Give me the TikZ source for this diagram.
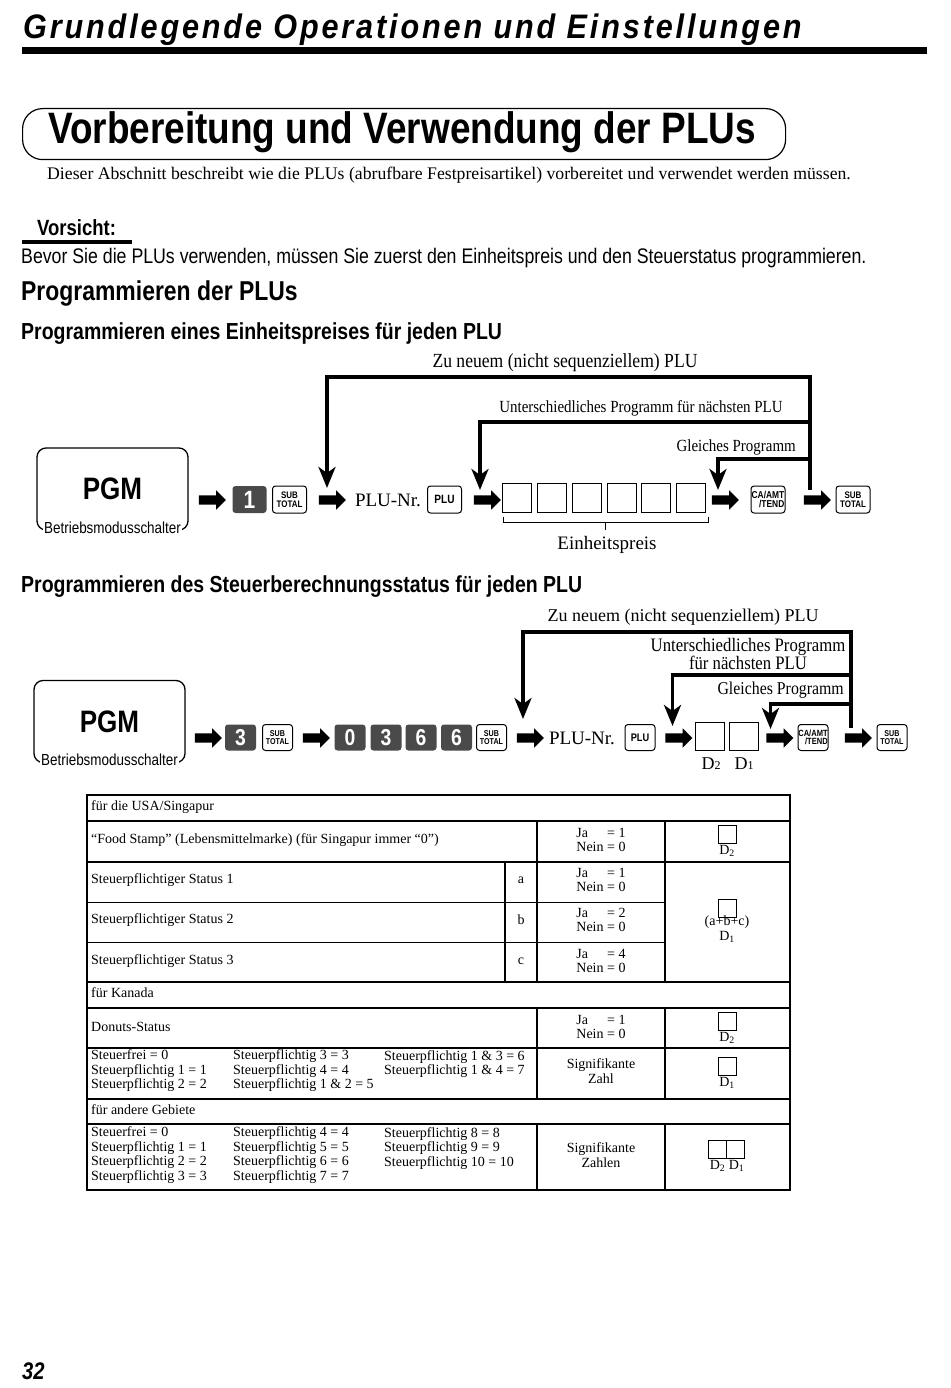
\documentclass[tikz,border=0pt]{standalone}
\usepackage{fontspec}
\setmainfont{Liberation Serif}
\newfontfamily\nser[FakeStretch=0.88]{Liberation Serif}
\newfontfamily\cnd[FakeStretch=0.84]{Liberation Sans}
\newfontfamily\hdr[FakeStretch=0.9,LetterSpace=8.4]{Liberation Sans}
\usetikzlibrary{arrows.meta,shapes.arrows,calc}
\definecolor{keygray}{HTML}{4A4A4A}

\tikzset{
  blk/.style={single arrow,fill=black,inner xsep=0pt,inner ysep=4.5pt,minimum height=27pt,single arrow head extend=5pt,single arrow head indent=0pt},
  key/.style={draw,rounded corners=3pt,line width=1pt,minimum width=34pt,minimum height=27pt,inner sep=0pt,align=center,font=\cnd\bfseries\fontsize{9.5}{8.5}\selectfont},
  numkey/.style={fill=keygray,rounded corners=3pt,minimum width=34pt,minimum height=27pt,inner sep=0pt,text=white,font=\cnd\bfseries\fontsize{25}{25}\selectfont},
  entry/.style={draw,line width=0.9pt,minimum width=29pt,minimum height=29pt,inner sep=0pt},
  pgmbox/.style={draw,line width=1.3pt,rounded corners=9pt,minimum width=151pt,minimum height=82pt,font=\cnd\bfseries\fontsize{31}{31}\selectfont},
  modesw/.style={fill=white,inner sep=1pt,font=\cnd\fontsize{16}{16}\selectfont},
  fb/.style={line width=3.6pt,-{Stealth[length=21pt,width=17pt,inset=6pt]}},
  fbl/.style={line width=3.6pt},
  lbl/.style={inner sep=0pt,font=\fontsize{18}{18}\selectfont},
  cell/.style={anchor=west,align=left,inner sep=0pt,font=\fontsize{14}{14.5}\selectfont},
  ccell/.style={align=center,inner sep=0pt,font=\fontsize{14}{14.5}\selectfont},
  jn/.style={align=left,inner sep=0pt,font=\fontsize{14}{14.5}\selectfont},
  tthick/.style={line width=1.6pt},
  tthin/.style={line width=0.7pt},
  dsmall/.style={draw,line width=0.8pt,minimum size=18pt,inner sep=0pt},
  head/.style={anchor=west,inner sep=0pt,font=\cnd\bfseries\fontsize{23.2}{23.2}\selectfont}
}
\newcommand\janein[1]{\makebox[2.2em][l]{Ja}= #1\\Nein = 0}

\begin{document}
\begin{tikzpicture}[x=1pt,y=-1pt]
\useasboundingbox (0,0) rectangle (950,1388);

% page header
\node[anchor=west,inner sep=0pt,font=\hdr\bfseries\itshape\fontsize{34}{34}\selectfont] (hdr) at (23,30) {Grundlegende Operationen und Einstellungen};
\fill (22,47) rectangle (927,54);

\node[draw,line width=1.2pt,rounded corners=20pt,minimum width=763pt,minimum height=51pt,anchor=north west] (ttlbox) at (22,108) {};
\node[anchor=west,inner sep=0pt,font=\cnd\bfseries\fontsize{44}{44}\selectfont] (ttl) at (48,132) {Vorbereitung und Verwendung der PLUs};
\node[anchor=west,inner sep=0pt,font=\fontsize{17.7}{17.7}\selectfont] (intro) at (47,175) {Dieser Abschnitt beschreibt wie die PLUs (abrufbare Festpreisartikel) vorbereitet und verwendet werden müssen.};

\node[anchor=west,inner sep=0pt,font=\cnd\bfseries\fontsize{22}{22}\selectfont] (vors) at (37,228) {Vorsicht:};
\fill (22,240) rectangle (132,244);
\node[anchor=west,inner sep=0pt,font=\cnd\fontsize{21.1}{21.1}\selectfont] (bevor) at (21,258) {Bevor Sie die PLUs verwenden, müssen Sie zuerst den Einheitspreis und den Steuerstatus programmieren.};
\node[head,font=\cnd\bfseries\fontsize{27.3}{27.3}\selectfont] (h1) at (21,294) {Programmieren der PLUs};
\node[head] (h2) at (21,334) {Programmieren eines Einheitspreises für jeden PLU};

% Einheitspreis
\node[pgmbox] (pgm1) at (112.5,489) {PGM};
\node[modesw] (sw1) at ([yshift=3pt]pgm1.south) {Betriebsmodusschalter};
\node[blk] (a11) at (210,500) {};
\node[numkey] (k11) at (249.5,499.5) {1};
\node[key] (k12) at (289.5,499.5) {SUB\\TOTAL};
\node[blk] (a12) at (330,500) {};
\node[lbl,font=\fontsize{19}{19}\selectfont] (nr1) at (388,500) {PLU-Nr.};
\node[key,font=\cnd\bfseries\fontsize{12}{12}\selectfont] (k13) at (444.5,499.5) {PLU};
\node[blk] (a13) at (485,500) {};
\foreach \i/\x in {1/517,2/552,3/587,4/621.5,5/656,6/690.5}
  \node[entry] (e\i) at (\x,498) {};
\draw[line width=1pt] ($(e1.south west)+(1,4)$) -- ++(0,6) -| ($(e6.south east)+(3,4)$);
\coordinate (br) at ($(e1.south west)!0.5!(e6.south east)+(2,10)$);
\draw[line width=1pt] (br) -- ++(0,7);
\node[lbl,font=\fontsize{19}{19}\selectfont] (ep) at (607,545) {Einheitspreis};
\node[blk] (a14) at (723,500) {};
\node[key,align=right,font=\cnd\bfseries\fontsize{10}{9}\selectfont] (k14) at (768,499.5) {CA/AMT\\/TEND};
\node[blk] (a15) at (815,500) {};
\node[key] (k15) at (853,499.5) {SUB\\TOTAL};

\coordinate (j1) at (810,377);
\coordinate (j2) at (810,422);
\coordinate (j3) at (810,459);
\draw[fbl] ([yshift=1.8pt]j1) -- ([xshift=-5pt,yshift=10pt]a15.center);
\draw[fb] (j1) -| ([xshift=-3pt,yshift=12pt]a12.center);
\draw[fb] (j2) -| ([xshift=-5pt,yshift=10pt]a13.center);
\draw[fb] (j3) -| ([xshift=-5pt,yshift=10pt]a14.center);
\node[lbl,font=\nser\fontsize{20}{20}\selectfont] (l11) at (565,363) {Zu neuem (nicht sequenziellem) PLU};
\node[lbl,font=\nser\fontsize{17}{17}\selectfont] (l12) at (641,408) {Unterschiedliches Programm für nächsten PLU};
\node[lbl,anchor=east,font=\nser\fontsize{17}{17}\selectfont] (l13) at (796,447) {Gleiches Programm};

% Steuerstatus
\node[head] (h3) at (21,587) {Programmieren des Steuerberechnungsstatus für jeden PLU};
\node[pgmbox] (pgm2) at (109.5,721.5) {PGM};
\node[modesw] (sw2) at ([yshift=3pt]pgm2.south) {Betriebsmodusschalter};
\node[blk] (a21) at (206,738) {};
\node[numkey,minimum width=31pt,minimum height=26pt,font=\cnd\bfseries\fontsize{23}{23}\selectfont] (k21) at (240.5,737.5) {3};
\node[key,minimum width=30pt,minimum height=26pt,font=\cnd\bfseries\fontsize{8.5}{8}\selectfont] (k22) at (277.5,737.5) {SUB\\TOTAL};
\node[blk] (a22) at (314,738) {};
\foreach \i/\x/\d in {3/350/0,4/386/3,5/421/6,6/456.5/6}
  \node[numkey,minimum width=31pt,minimum height=26pt,font=\cnd\bfseries\fontsize{23}{23}\selectfont] (k2\i) at (\x,737.5) {\d};
\node[key,minimum width=30pt,minimum height=26pt,font=\cnd\bfseries\fontsize{8.5}{8}\selectfont] (k27) at (491.5,737.5) {SUB\\TOTAL};
\node[blk] (a23) at (528,738) {};
\node[lbl,font=\fontsize{19}{19}\selectfont] (nr2) at (582,738) {PLU-Nr.};
\node[key,minimum width=30pt,minimum height=26pt,font=\cnd\bfseries\fontsize{11}{11}\selectfont] (k28) at (640,737.5) {PLU};
\node[blk] (a24) at (676.5,738) {};
\node[entry,minimum height=28pt] (dd2) at (709.5,736) {};
\node[entry,minimum height=28pt] (dd1) at (743.5,736) {};
\node[lbl] (ld2) at (711,764) {D{\fontsize{12}{12}\selectfont 2}};
\node[lbl] (ld1) at (744,764) {D{\fontsize{12}{12}\selectfont 1}};
\node[blk] (a25) at (777.5,738) {};
\node[key,align=right,minimum width=30pt,minimum height=26pt,font=\cnd\bfseries\fontsize{9}{8.5}\selectfont] (k29) at (813,737.5) {CA/AMT\\/TEND};
\node[blk] (a26) at (856,738) {};
\node[key,minimum width=30pt,minimum height=26pt,font=\cnd\bfseries\fontsize{8.5}{8}\selectfont] (k2a) at (892,737.5) {SUB\\TOTAL};

\coordinate (j4) at (851,632);
\coordinate (j5) at (851,675);
\coordinate (j6) at (851,704);
\draw[fbl] ([yshift=1.8pt]j4) -- ([xshift=-5pt,yshift=10pt]a26.center);
\draw[fb] (j4) -| ([xshift=-5pt,yshift=19pt]a23.center);
\draw[fb] (j5) -| ([xshift=-4pt,yshift=12pt]a24.center);
\draw[fb] (j6) -| ([xshift=-7pt,yshift=9pt]a25.center);
\node[lbl] (l21) at (683,617) {Zu neuem (nicht sequenziellem) PLU};
\node[lbl,align=center,font=\nser\fontsize{19}{17}\selectfont] (l22) at (748,654) {Unterschiedliches Programm\\für nächsten PLU};
\node[lbl,anchor=east,font=\nser\fontsize{18}{18}\selectfont] (l23) at (844,690) {Gleiches Programm};

% table
\draw[tthick] (87,795) rectangle (790,1190);
\foreach \y in {821,862,982,1008,1048,1099,1124}
  \draw[tthick] (87,\y) -- (790,\y);
\draw[tthin] (87,902) -- (665,902) (87,942) -- (665,942);
\foreach \ya/\yb in {821/982,1008/1099,1124/1190}
  \draw[tthick] (537,\ya) -- (537,\yb) (665,\ya) -- (665,\yb);
\draw[tthick] (505,862) -- (505,982);

\node[cell] (t0) at (91,807) {für die USA/Singapur};
\node[cell] (t1) at (91,840) {“Food Stamp” (Lebensmittelmarke) (für Singapur immer “0”)};
\node[jn] (t1j) at (601,840) {\janein{1}};
\node[dsmall] (t1d) at (727,834) {};
\node[ccell] (t1l) at (727,851) {D\textsubscript{2}};
\foreach \n/\y/\c/\v in {1/880/a/1,2/920/b/2,3/961/c/4}{
  \node[cell] (s\n) at (91,\y) {Steuerpflichtiger Status \n};
  \node[ccell] (s\n c) at (521,\y) {\c};
  \node[jn] (s\n j) at (601,\y) {\janein{\v}};
}
\node[dsmall] (sd) at (727,908) {};
\node[ccell] (sl) at (727,929) {(a+b+c)\\D\textsubscript{1}};

\node[cell] (t5) at (91,993) {für Kanada};
\node[cell] (t6) at (91,1027) {Donuts-Status};
\node[jn] (t6j) at (601,1027) {\janein{1}};
\node[dsmall] (t6d) at (727,1021) {};
\node[ccell] (t6l) at (727,1038) {D\textsubscript{2}};
\node[cell] (t7a) at (91,1071) {Steuerfrei = 0\\Steuerpflichtig 1 = 1\\Steuerpflichtig 2 = 2};
\node[cell] (t7b) at (233,1071) {Steuerpflichtig 3 = 3\\Steuerpflichtig 4 = 4\\Steuerpflichtig 1 \& 2 = 5};
\node[cell,anchor=north west] (t7c) at (384,1050) {Steuerpflichtig 1 \& 3 = 6\\Steuerpflichtig 1 \& 4 = 7};
\node[ccell] (t7s) at (601,1071) {Signifikante\\Zahl};
\node[dsmall] (t7d) at (727,1066) {};
\node[ccell] (t7l) at (727,1083) {D\textsubscript{1}};

\node[cell] (t8) at (91,1110) {für andere Gebiete};
\node[cell] (t9a) at (91,1155) {Steuerfrei = 0\\Steuerpflichtig 1 = 1\\Steuerpflichtig 2 = 2\\Steuerpflichtig 3 = 3};
\node[cell] (t9b) at (233,1155) {Steuerpflichtig 4 = 4\\Steuerpflichtig 5 = 5\\Steuerpflichtig 6 = 6\\Steuerpflichtig 7 = 7};
\node[cell,anchor=north west] (t9c) at (384,1127) {Steuerpflichtig 8 = 8\\Steuerpflichtig 9 = 9\\Steuerpflichtig 10 = 10};
\node[ccell] (t9s) at (601,1155) {Signifikante\\Zahlen};
\node[dsmall] (t9d2) at (717,1149) {};
\node[dsmall] (t9d1) at (735,1149) {};
\node[ccell] (t9l) at (727,1166) {D\textsubscript{2} D\textsubscript{1}};

\node[anchor=west,inner sep=0pt,font=\cnd\bfseries\itshape\fontsize{24}{24}\selectfont] (pg) at (22,1371) {32};
\end{tikzpicture}
\end{document}
